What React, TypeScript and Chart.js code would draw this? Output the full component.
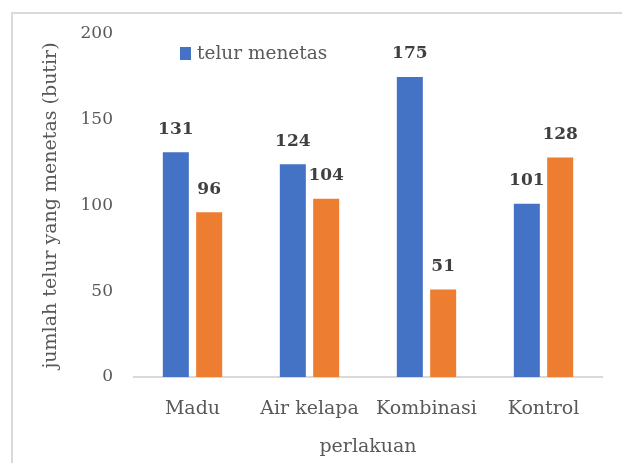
import React, { useEffect, useRef } from "react";
import { Chart, registerables } from "chart.js";

Chart.register(...registerables);

const categories = ["Madu", "Air kelapa", "Kombinasi", "Kontrol"];
const seriesMenetas = [131, 124, 175, 101];
const seriesLain = [96, 104, 51, 128];
const seriesNames = ["telur menetas", "telur tidak menetas"];
const yTicks = [0, 50, 100, 150, 200];

const FONT = "'DejaVu Serif', serif";

const framePlugin = {
  id: "frame",
  beforeDraw(chart: any) {
    const ctx = chart.ctx;
    ctx.save();
    ctx.strokeStyle = "#d9d9d9";
    ctx.lineWidth = 2;
    ctx.beginPath();
    ctx.moveTo(12, chart.height);
    ctx.lineTo(12, 13);
    ctx.lineTo(chart.width, 13);
    ctx.stroke();
    ctx.restore();
  },
};

const labelsPlugin = {
  id: "valueLabels",
  afterDatasetsDraw(chart: any) {
    const ctx = chart.ctx;
    ctx.save();
    ctx.font = `bold 17px ${FONT}`;
    ctx.fillStyle = "#404040";
    ctx.textAlign = "center";
    ctx.textBaseline = "middle";
    chart.data.datasets.forEach((ds: any, i: number) => {
      const meta = chart.getDatasetMeta(i);
      meta.data.forEach((el: any, j: number) => {
        ctx.fillText(String(ds.data[j]), el.x, el.y - 23);
      });
    });
    ctx.restore();
  },
};

const legendPlugin = {
  id: "innerLegend",
  afterDraw(chart: any) {
    const ctx = chart.ctx;
    const ds = chart.data.datasets[0];
    const x = chart.chartArea.left + 46;
    const y = chart.chartArea.top + 20;
    ctx.save();
    ctx.fillStyle = ds.backgroundColor;
    ctx.fillRect(x, y - 7, 11, 13);
    ctx.font = `18.5px ${FONT}`;
    ctx.fillStyle = "#595959";
    ctx.textAlign = "left";
    ctx.textBaseline = "middle";
    ctx.fillText(ds.label, x + 17, y);
    ctx.restore();
  },
};

export default function App() {
  const ref = useRef<HTMLCanvasElement | null>(null);
  useEffect(() => {
    if (!ref.current) return;
    const chart = new Chart(ref.current, {
      type: "bar",
      data: {
        labels: categories,
        datasets: [
          {
            label: seriesNames[0],
            data: seriesMenetas,
            backgroundColor: "#4472C4",
            barPercentage: 0.78,
            categoryPercentage: 0.57,
          },
          {
            label: seriesNames[1],
            data: seriesLain,
            backgroundColor: "#ED7D31",
            barPercentage: 0.78,
            categoryPercentage: 0.57,
          },
        ],
      },
      options: {
        responsive: false,
        animation: false,
        layout: { padding: { left: 0, right: 20, top: 34, bottom: 0 } },
        plugins: {
          legend: { display: false },
          tooltip: { enabled: false },
        },
        scales: {
          x: {
            grid: { display: false, drawTicks: false },
            border: { display: true, color: "#d9d9d9", width: 2 },
            ticks: {
              padding: 21,
              color: "#595959",
              font: { family: FONT, size: 19 },
              maxRotation: 0,
            },
            title: {
              display: true,
              text: "perlakuan",
              color: "#595959",
              font: { family: FONT, size: 19 },
              padding: { top: 10, bottom: 5 },
            },
            afterFit(scale: any) {
              scale.height = 86;
            },
          },
          y: {
            min: 0,
            max: 200,
            afterBuildTicks(scale: any) {
              scale.ticks = yTicks.map((v) => ({ value: v }));
            },
            grid: { display: false, drawTicks: false },
            border: { display: false },
            ticks: {
              padding: 21,
              color: "#595959",
              font: { family: FONT, size: 17 },
            },
            title: {
              display: true,
              text: "jumlah telur yang menetas (butir)",
              color: "#595959",
              font: { family: FONT, size: 19 },
              padding: { top: 40, bottom: 0 },
            },
            afterFit(scale: any) {
              scale.width = 134;
            },
          },
        },
      },
      plugins: [framePlugin, labelsPlugin, legendPlugin],
    });
    return () => chart.destroy();
  }, []);
  return (
    <div style={{ position: "fixed", left: 0, top: 0, width: 622, height: 463, background: "#fff" }}>
      <canvas ref={ref} width={622} height={463} style={{ display: "block" }} />
    </div>
  );
}
